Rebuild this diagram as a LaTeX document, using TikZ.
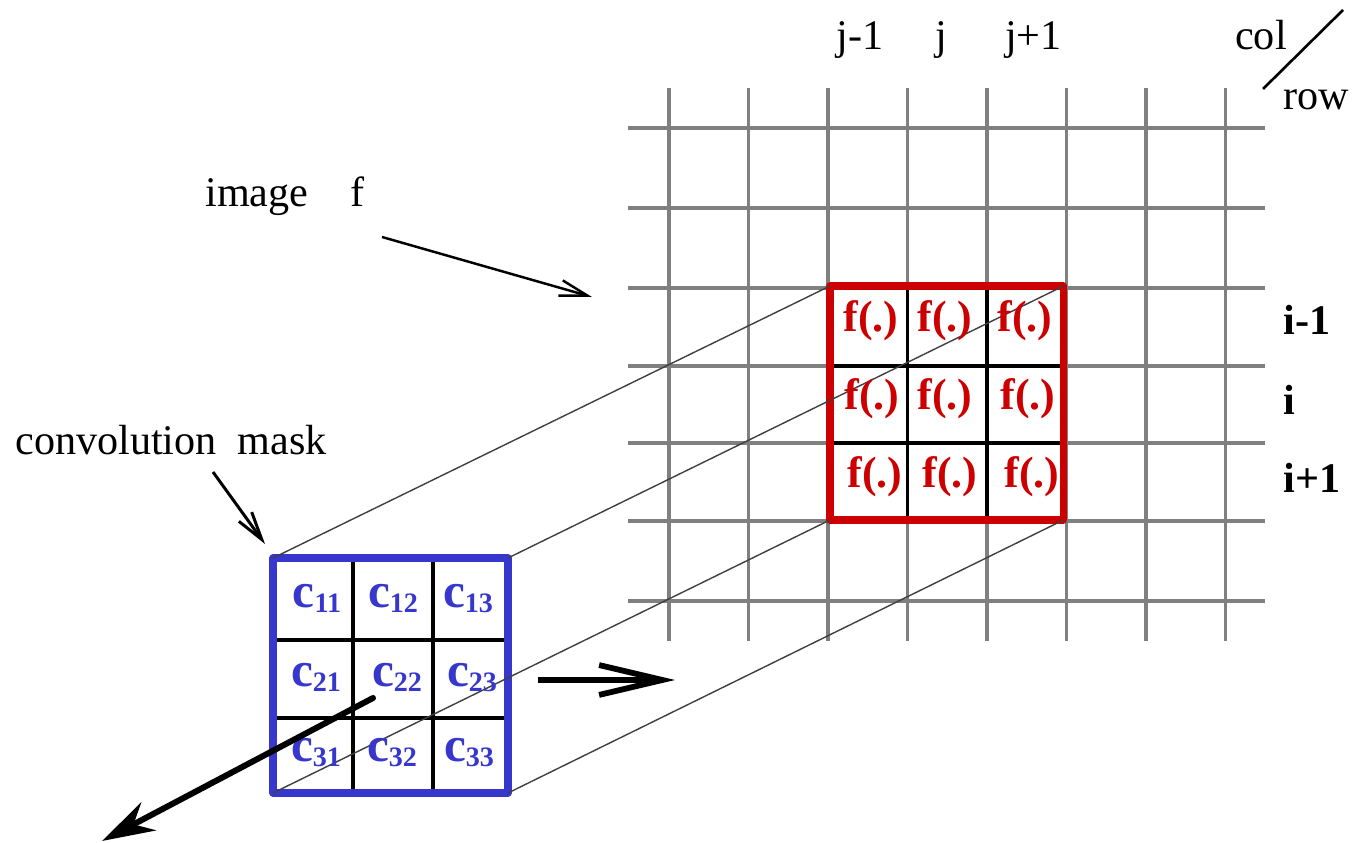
\documentclass[tikz,border=0pt]{standalone}
\usepackage{fontspec}
\setmainfont{Liberation Serif}
\usetikzlibrary{arrows.meta}

\definecolor{maskblue}{RGB}{55,55,205}
\definecolor{winred}{RGB}{204,0,0}

\newcommand{\cent}[1]{c{\fontsize{16}{16}\selectfont\raisebox{-2.3pt}{#1}}}

\begin{document}
\begin{tikzpicture}[line join=round,
  gridln/.style={line width=2.1pt,black!50},
  cellln/.style={line width=2pt},
  proj/.style={line width=0.8pt,black!75},
  lbl/.style={font=\fontsize{24}{28}\selectfont,inner sep=0pt,anchor=base},
  rowlbl/.style={font=\bfseries\fontsize{24}{28}\selectfont,inner sep=0pt,anchor=base west},
  fval/.style={font=\bfseries\fontsize{25}{28}\selectfont,text=winred,inner sep=0pt,anchor=base},
  cval/.style={font=\bfseries\fontsize{28}{30}\selectfont,text=maskblue,inner sep=0pt,anchor=base},
  ptr/.style={line width=1.4pt,-{Straight Barb[length=16pt,width=9pt]}}]
  \useasboundingbox (0,0) rectangle (27.30,16.86);
  % image grid
  \draw[gridln] (13.38,4.04) -- (13.38,15.10);
  \draw[gridln] (14.97,4.04) -- (14.97,15.10);
  \draw[gridln] (16.56,4.04) -- (16.56,15.10);
  \draw[gridln] (18.15,4.04) -- (18.15,15.10);
  \draw[gridln] (19.74,4.04) -- (19.74,15.10);
  \draw[gridln] (21.33,4.04) -- (21.33,15.10);
  \draw[gridln] (22.92,4.04) -- (22.92,15.10);
  \draw[gridln] (24.51,4.04) -- (24.51,15.10);
  \draw[gridln] (12.56,14.30) -- (25.30,14.30);
  \draw[gridln] (12.56,12.70) -- (25.30,12.70);
  \draw[gridln] (12.56,11.10) -- (25.30,11.10);
  \draw[gridln] (12.56,9.54) -- (25.30,9.54);
  \draw[gridln] (12.56,8.00) -- (25.30,8.00);
  \draw[gridln] (12.56,6.44) -- (25.30,6.44);
  \draw[gridln] (12.56,4.84) -- (25.30,4.84);
  % corners of the window and of the mask
  \coordinate (wtl) at (16.60,11.14);
  \coordinate (wtr) at (21.27,11.14);
  \coordinate (wbl) at (16.60,6.46);
  \coordinate (wbr) at (21.27,6.46);
  \coordinate (mtl) at (5.46,5.70);
  \coordinate (mtr) at (10.16,5.70);
  \coordinate (mbl) at (5.46,1.00);
  \coordinate (mbr) at (10.16,1.00);
  % window on the image
  \draw[cellln] (18.15,6.46) -- (18.15,11.14);
  \draw[cellln] (19.74,6.46) -- (19.74,11.14);
  \draw[cellln] (16.60,9.54) -- (21.27,9.54);
  \draw[cellln] (16.60,8.00) -- (21.27,8.00);
  \draw[line width=4pt,winred] (wtl) rectangle (wbr);
  % mask
  \fill[white] (mtl) rectangle (mbr);
  \draw[cellln] (7.06,1.00) -- (7.06,5.70);
  \draw[cellln] (8.66,1.00) -- (8.66,5.70);
  \draw[cellln] (5.46,4.06) -- (10.16,4.06);
  \draw[cellln] (5.46,2.50) -- (10.16,2.50);
  \draw[line width=4pt,maskblue] (mtl) rectangle (mbr);
  % projection lines
  \draw[proj] (mtl) -- (wtl);
  \draw[proj] (mtr) -- (wtr);
  \draw[proj] (mbl) -- (wbl);
  \draw[proj] (mbr) -- (wbr);
  % values
  \node[fval] (f11) at (17.42,10.22) {f(.)};
  \node[fval] (f12) at (18.90,10.22) {f(.)};
  \node[fval] (f13) at (20.50,10.22) {f(.)};
  \node[fval] (f21) at (17.44,8.66) {f(.)};
  \node[fval] (f22) at (18.90,8.66) {f(.)};
  \node[fval] (f23) at (20.56,8.66) {f(.)};
  \node[fval] (f31) at (17.50,7.10) {f(.)};
  \node[fval] (f32) at (19.00,7.10) {f(.)};
  \node[fval] (f33) at (20.64,7.10) {f(.)};
  \node[cval] (c11) at (6.34,4.70) {\cent{11}};
  \node[cval] (c12) at (7.86,4.70) {\cent{12}};
  \node[cval] (c13) at (9.36,4.70) {\cent{13}};
  \node[cval] (c21) at (6.32,3.12) {\cent{21}};
  \node[cval] (c22) at (7.94,3.12) {\cent{22}};
  \node[cval] (c23) at (9.44,3.12) {\cent{23}};
  \node[cval] (c31) at (6.32,1.62) {\cent{31}};
  \node[cval] (c32) at (7.84,1.62) {\cent{32}};
  \node[cval] (c33) at (9.38,1.62) {\cent{33}};
  % index labels
  \node[lbl] (jm) at (17.20,15.86) {j-1};
  \node[lbl] (j0) at (18.83,15.86) {j};
  \node[lbl] (jp) at (20.67,15.86) {j+1};
  \node[lbl] (col) at (25.22,15.86) {col};
  \node[lbl] (row) at (26.32,14.66) {row};
  \coordinate (slasha) at (25.26,15.08);
  \coordinate (slashb) at (26.86,16.66);
  \draw[line width=1.5pt] (slasha) -- (slashb);
  \node[rowlbl] (im) at (25.66,10.16) {i-1};
  \node[rowlbl] (i0) at (25.66,8.56) {i};
  \node[rowlbl] (ip) at (25.66,7.00) {i+1};
  % captions and arrows
  \node[lbl,anchor=base west] (imglbl) at (4.10,12.72) {image\quad f};
  \node[lbl,anchor=base west] (masklbl) at (0.30,7.76) {convolution\enspace mask};
  \coordinate (imgtail) at (7.64,12.12);
  \coordinate (imghead) at (11.84,10.92);
  \draw[ptr] (imgtail) -- (imghead);
  \coordinate (masktail) at (4.26,7.42);
  \coordinate (maskhead) at (5.30,5.98);
  \draw[ptr,line width=1.7pt] (masktail) -- (maskhead);
  \coordinate (movetail) at (10.76,3.26);
  \coordinate (movehead) at (13.50,3.26);
  \draw[line width=3.3pt,-{Straight Barb[length=36pt,width=17pt]}] (movetail) -- (movehead);
  \coordinate (outtail) at (7.46,2.90);
  \coordinate (outhead) at (2.04,0.04);
  \draw[line width=3.4pt,line cap=round,-{Stealth[length=30pt,width=18pt]}] (outtail) -- (outhead);
\end{tikzpicture}
\end{document}
